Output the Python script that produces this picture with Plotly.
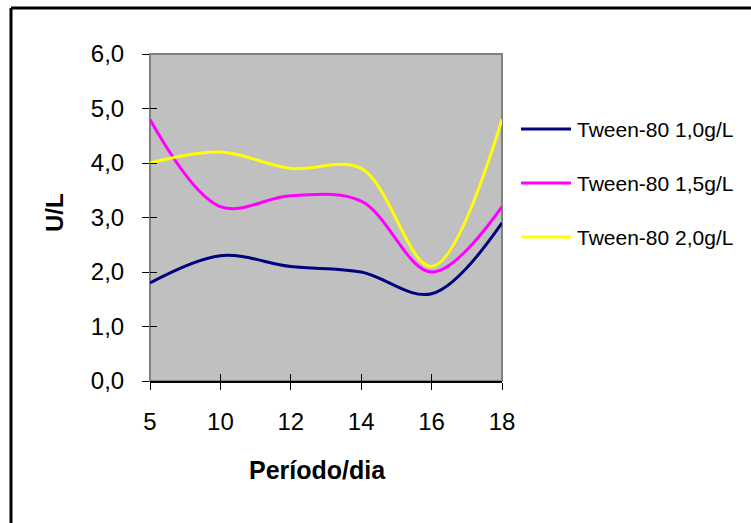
import plotly.graph_objects as go

# Sampling days (categorical, evenly spaced) and enzyme activity in U/L
periodos = ["5", "10", "12", "14", "16", "18"]
nomes = ["Tween-80 1,0g/L", "Tween-80 1,5g/L", "Tween-80 2,0g/L"]
tween_10 = [1.8, 2.3, 2.1, 2.0, 1.6, 2.9]
tween_15 = [4.8, 3.2, 3.4, 3.3, 2.0, 3.2]
tween_20 = [4.0, 4.2, 3.9, 3.9, 2.1, 4.8]
y_ticks = [0, 1, 2, 3, 4, 5, 6]
y_tick_text = ["0,0", "1,0", "2,0", "3,0", "4,0", "5,0", "6,0"]
cores = ["#000080", "#FF00FF", "#FFFF00"]

W, H = 751, 523
L, R, T, B = 150, 502, 54, 381
FONT = "Liberation Sans, Arial, sans-serif"


def px(x):
    return (x - L) / (R - L)


def py(y):
    return (B - y) / (B - T)


idx = list(range(len(periodos)))
fig = go.Figure()
for nome, vals, cor in zip(nomes, [tween_10, tween_15, tween_20], cores):
    fig.add_trace(go.Scatter(
        x=idx, y=vals, name=nome, mode="lines",
        line=dict(color=cor, width=3, shape="spline", smoothing=1.0),
        cliponaxis=False, showlegend=False,
    ))

# empty trace so the overlay axes (inner half of the crossing ticks) are drawn
fig.add_trace(go.Scatter(x=[], y=[], xaxis="x2", yaxis="y2", showlegend=False))

axis_font = dict(family=FONT, size=24, color="black")
fig.update_layout(
    width=W, height=H,
    margin=dict(l=L, r=W - R, t=T, b=H - B, pad=0),
    paper_bgcolor="white", plot_bgcolor="#C0C0C0",
    font=dict(family=FONT, color="black"),
    xaxis=dict(
        range=[0, len(periodos) - 1], tickvals=idx, ticktext=periodos,
        showgrid=False, zeroline=False, showline=True, linecolor="black", linewidth=2,
        ticks="outside", ticklen=7, tickwidth=1, tickcolor="black",
        tickfont=axis_font, ticklabelstandoff=11,
    ),
    yaxis=dict(
        range=[0, 6], tickvals=y_ticks, ticktext=y_tick_text,
        showgrid=False, zeroline=False, showline=False,
        ticks="outside", ticklen=7, tickwidth=1, tickcolor="black",
        tickfont=axis_font, ticklabelstandoff=13,
    ),
    xaxis2=dict(
        overlaying="x", matches="x", tickvals=idx, showticklabels=False,
        showgrid=False, zeroline=False, ticks="inside", ticklen=7, tickwidth=1,
        tickcolor="black", side="bottom",
    ),
    yaxis2=dict(
        overlaying="y", matches="y", tickvals=y_ticks, showticklabels=False,
        showgrid=False, zeroline=False, ticks="inside", ticklen=7, tickwidth=1,
        tickcolor="black", side="left",
    ),
)

shapes = [
    # plot-area frame
    dict(type="rect", xref="paper", yref="paper", x0=0, x1=1, y0=0, y1=1,
         line=dict(color="#808080", width=2), layer="below"),
    # chart frame (left and top edges)
    dict(type="line", xref="paper", yref="paper", x0=px(11), x1=px(11),
         y0=py(8), y1=py(530), line=dict(color="black", width=3)),
    dict(type="line", xref="paper", yref="paper", x0=px(11), x1=px(760),
         y0=py(8), y1=py(8), line=dict(color="black", width=3)),
]

annotations = [
    dict(text="<b>Período/dia</b>", xref="paper", yref="paper",
         x=px(317), y=py(470), showarrow=False, xanchor="center", yanchor="middle",
         font=dict(family=FONT, size=25, color="black")),
    dict(text="<b>U/L</b>", xref="paper", yref="paper", textangle=-90,
         x=px(54), y=py(213), showarrow=False, xanchor="center", yanchor="middle",
         font=dict(family=FONT, size=24, color="black")),
]

# legend on the right: short line swatch followed by the series name
for i, (nome, cor) in enumerate(zip(nomes, cores)):
    yy = 129 + 54 * i
    shapes.append(dict(type="line", xref="paper", yref="paper",
                       x0=px(521), x1=px(571), y0=py(yy), y1=py(yy),
                       line=dict(color=cor, width=3)))
    annotations.append(dict(text=nome, xref="paper", yref="paper",
                            x=px(575), y=py(yy), showarrow=False,
                            xanchor="left", yanchor="middle",
                            font=dict(family=FONT, size=21, color="black")))

fig.update_layout(shapes=shapes, annotations=annotations)
fig.write_html("out.html")
